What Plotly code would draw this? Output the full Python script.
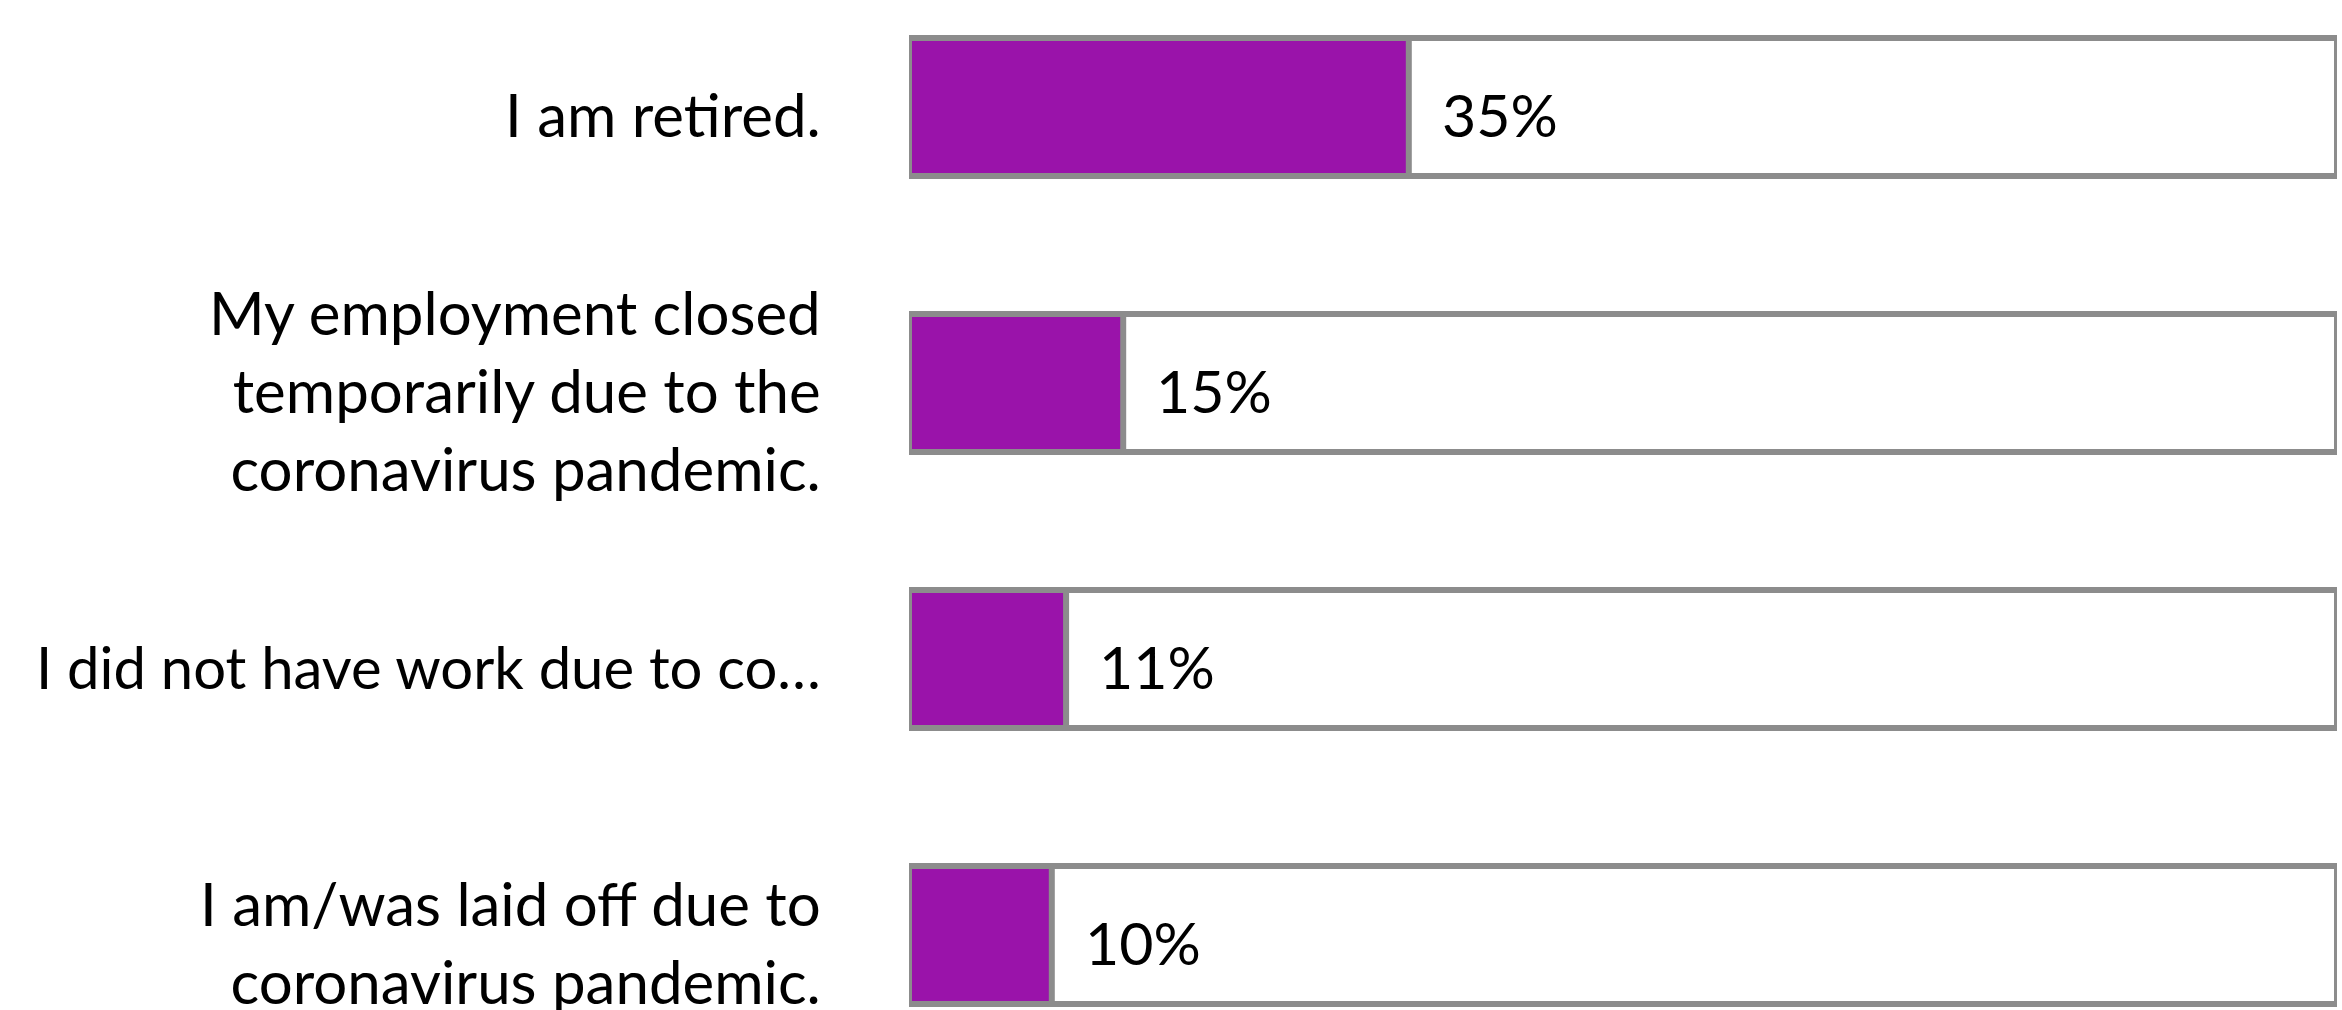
import plotly.graph_objects as go

categories = [
    "I am retired.",
    "My employment closed<br>temporarily due to the<br>coronavirus pandemic.",
    "I did not have work due to co…",
    "I am/was laid off due to<br>coronavirus pandemic.",
]
values = [35, 15, 11, 10]
track_max = [100, 100, 100, 100]
value_labels = ["35%", "15%", "11%", "10%"]
label_font_sizes = [60, 60, 58, 60]

PURPLE = "#9a13aa"
GRAY = "#8c8c8c"
FONT = "Lato"

fig = go.Figure()
fig.add_trace(go.Bar(
    y=categories, x=track_max, orientation="h",
    marker=dict(color="white", line=dict(color=GRAY, width=6)),
    hoverinfo="skip", showlegend=False,
))
fig.add_trace(go.Bar(
    y=categories, x=values, orientation="h",
    marker=dict(color=PURPLE, line=dict(color=GRAY, width=6)),
    showlegend=False,
))

# value labels right of each purple bar
for cat, v, lab in zip(categories, values, value_labels):
    fig.add_annotation(
        x=v, y=cat, text=lab, showarrow=False,
        xanchor="left", yanchor="middle", xshift=31, yshift=-7,
        font=dict(family=FONT, size=59, color="black"),
    )

# category labels, right-aligned left of the plot area
for cat, fs in zip(categories, label_font_sizes):
    fig.add_annotation(
        xref="paper", x=0, y=cat, text=cat, showarrow=False,
        xanchor="right", yanchor="middle", align="right",
        xshift=-86, yshift=-7,
        font=dict(family=FONT, size=fs, color="black"),
    )

fig.update_layout(
    width=2342, height=1010,
    margin=dict(l=909, r=5, t=0, b=0),
    barmode="overlay", bargap=0.5,
    plot_bgcolor="white", paper_bgcolor="white",
    font=dict(family=FONT, size=60, color="black"),
    xaxis=dict(range=[0, 100], visible=False, fixedrange=True),
    yaxis=dict(
        categoryorder="array", categoryarray=categories,
        range=[3.2717, -0.3877],
        showgrid=False, zeroline=False, showline=False,
        ticks="", showticklabels=False, fixedrange=True,
    ),
)

fig.write_html(
    "out.html",
    config={"displayModeBar": False},
    post_script="document.body.style.margin='0';document.body.style.padding='0';document.body.style.overflow='hidden';",
)
